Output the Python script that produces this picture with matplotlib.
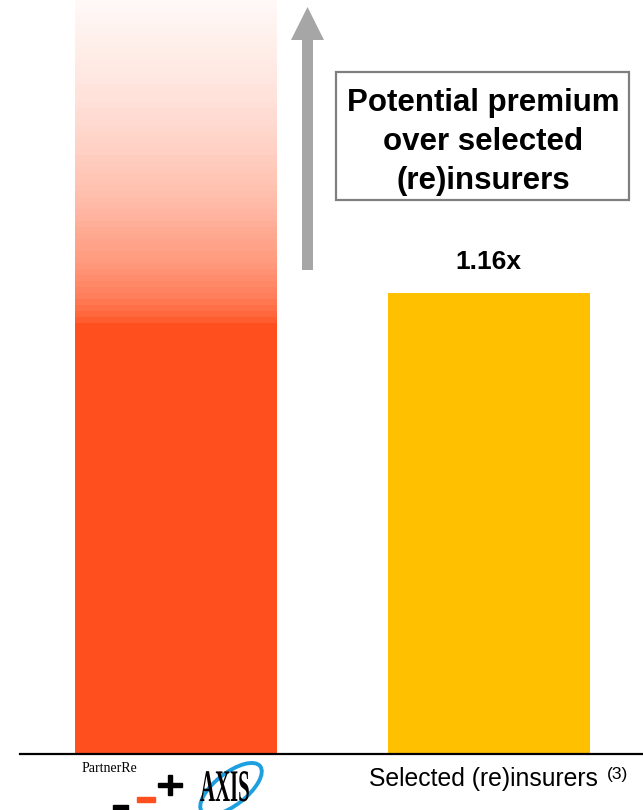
import numpy as np
import matplotlib
matplotlib.use("Agg")
import matplotlib.pyplot as plt
from matplotlib.patches import Rectangle, FancyArrow, Ellipse, PathPatch
from matplotlib.transforms import Affine2D
from matplotlib.textpath import TextPath
from matplotlib.font_manager import FontProperties

plt.rcParams['font.family'] = 'Liberation Sans'

# data
categories = ["PartnerRe + AXIS", "Selected (re)insurers"]
values = [1.07, 1.16]
value_labels = ["", "1.16x"]
bar_colors = ["#FF4F1E", "#FFC000"]

W, H = 643, 810
fig = plt.figure(figsize=(W / 100, H / 100), dpi=100)
# pixel coordinates measured from the top-left corner
px = Affine2D().scale(1 / W, -1 / H).translate(0, 1) + fig.transFigure

ax = fig.add_axes([20 / W, 56 / H, 623 / W, 754 / H])
ax.set_xlim(-0.5, 1.494)
ax.set_ylim(0, 1.897)
x = np.arange(len(categories))
bar_w = 0.646

ax.bar(x, values, bar_w, color=bar_colors, linewidth=0, zorder=2)

# fading band above the left bar: the premium potential
y0, y1 = values[0], ax.get_ylim()[1]
n_bands = 55
edges = np.linspace(y0, y1, n_bands + 1)
t_pts = [0, 0.03, 0.085, 0.19, 0.39, 0.55, 0.7, 0.85, 1.0]
a_pts = [1, 0.88, 0.74, 0.58, 0.37, 0.25, 0.16, 0.09, 0.03]
for lo, hi in zip(edges[:-1], edges[1:]):
    t = (lo - y0) / (y1 - y0)
    a = np.interp(t, t_pts, a_pts)
    ax.bar(x[0], hi - lo, bar_w, bottom=lo, color=bar_colors[0],
           alpha=a, linewidth=0, zorder=1)

ax.annotate(value_labels[1], xy=(x[1], values[1]), xytext=(0, 22),
            textcoords='offset points', ha='center', va='center',
            fontsize=19, fontweight='bold')

for s in ['top', 'left', 'right']:
    ax.spines[s].set_visible(False)
ax.spines['bottom'].set_linewidth(1.6)
ax.set_xticks([])
ax.set_yticks([])

# arrow and callout
fig.patches.append(FancyArrow(307.5, 270, 0, -263, width=11, head_width=33,
                              head_length=33, length_includes_head=True,
                              color='#A6A6A6', linewidth=0, transform=px))
fig.patches.append(Rectangle((336, 72), 293, 128, fill=False,
                             edgecolor='#7F7F7F', linewidth=1.6, transform=px))
fig.text(483, 142, "Potential premium\nover selected\n(re)insurers",
         transform=px, ha='center', va='center', fontsize=22.5,
         fontweight='bold', linespacing=1.4)

# category labels
fig.text(598, 779, "Selected (re)insurers", transform=px, ha='right',
         va='center', fontsize=17.8)
fig.text(607, 775, "(3)", transform=px, ha='left', va='center', fontsize=12.5)

# combined company mark
fig.text(82, 768, "PartnerRe", transform=px, ha='left', va='center',
         fontsize=10, family='Liberation Serif')
fig.patches.append(Rectangle((113, 805), 15, 6, color='black', transform=px))
fig.patches.append(Rectangle((137, 797), 18, 5, color='#FF4F1E', transform=px))
fig.patches.append(Rectangle((158, 783), 24, 4, color='black', transform=px))
fig.patches.append(Rectangle((168, 775), 4, 20, color='black', transform=px))
fig.patches.append(Ellipse((231, 789), 74, 32, angle=-38, fill=False,
                           edgecolor='#1E9FE0', linewidth=2.8, transform=px))
tp = TextPath((0, 0), "AXIS", size=40,
              prop=FontProperties(family='Liberation Serif', weight='bold'))
tp = tp.transformed(Affine2D().scale(0.52, -1.13).translate(200, 801))
fig.patches.append(PathPatch(tp, color='black', linewidth=0, transform=px))

fig.savefig("out.png", dpi=100)
